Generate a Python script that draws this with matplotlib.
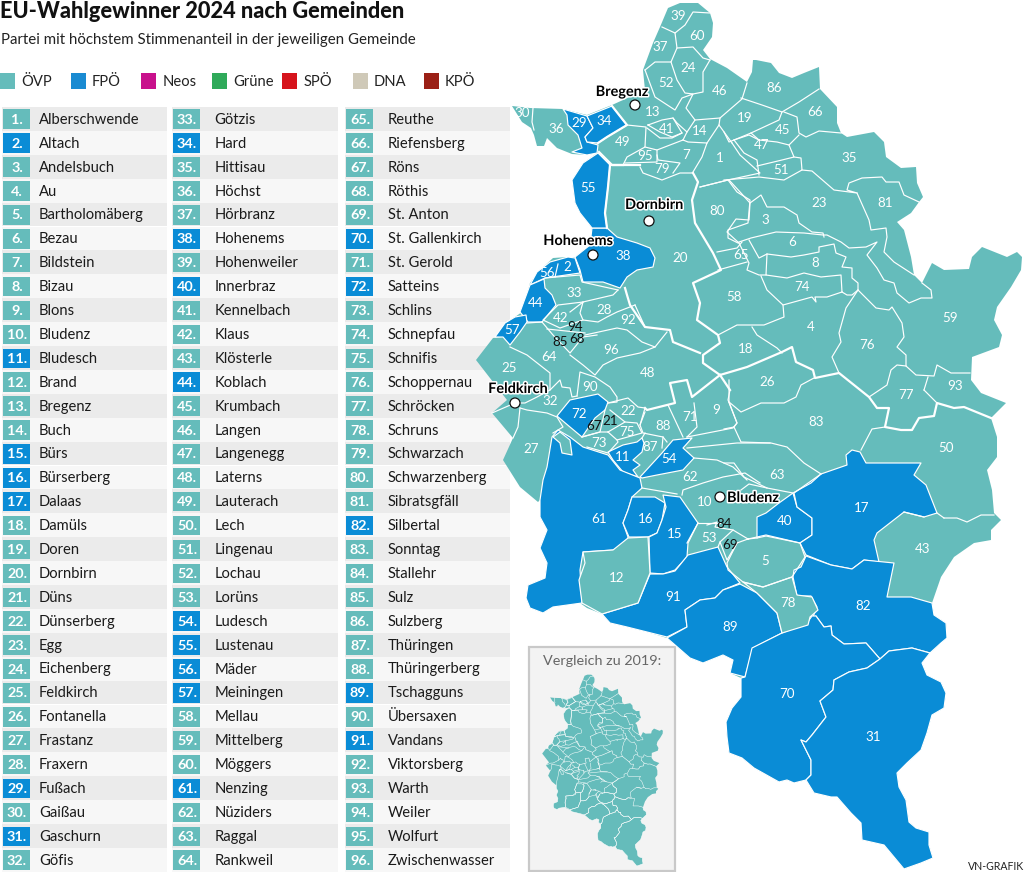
import matplotlib
matplotlib.use('Agg')
import matplotlib.pyplot as plt
import matplotlib.patheffects as pe
from matplotlib.patches import Polygon, Rectangle, Circle

TEAL = '#65bcbb'
BLUE = '#0a8cd6'

names = ['Alberschwende','Altach','Andelsbuch','Au','Bartholomäberg','Bezau','Bildstein','Bizau','Blons','Bludenz','Bludesch','Brand','Bregenz','Buch','Bürs','Bürserberg','Dalaas','Damüls','Doren','Dornbirn','Düns','Dünserberg','Egg','Eichenberg','Feldkirch','Fontanella','Frastanz','Fraxern','Fußach','Gaißau','Gaschurn','Göfis',
         'Götzis','Hard','Hittisau','Höchst','Hörbranz','Hohenems','Hohenweiler','Innerbraz','Kennelbach','Klaus','Klösterle','Koblach','Krumbach','Langen','Langenegg','Laterns','Lauterach','Lech','Lingenau','Lochau','Lorüns','Ludesch','Lustenau','Mäder','Meiningen','Mellau','Mittelberg','Möggers','Nenzing','Nüziders','Raggal','Rankweil',
         'Reuthe','Riefensberg','Röns','Röthis','St. Anton','St. Gallenkirch','St. Gerold','Satteins','Schlins','Schnepfau','Schnifis','Schoppernau','Schröcken','Schruns','Schwarzach','Schwarzenberg','Sibratsgfäll','Silbertal','Sonntag','Stallehr','Sulz','Sulzberg','Thüringen','Thüringerberg','Tschagguns','Übersaxen','Vandans','Viktorsberg','Warth','Weiler','Wolfurt','Zwischenwasser']
fpo_ids = [2, 11, 15, 16, 17, 29, 31, 34, 38, 40, 44, 54, 55, 56, 57, 61, 70, 72, 82, 89, 91]

parties = ['ÖVP', 'FPÖ', 'Neos', 'Grüne', 'SPÖ', 'DNA', 'KPÖ']
party_colors = [TEAL, '#1a8bd2', '#c8118c', '#2faa5a', '#d6141c', '#cfc9b8', '#9b2016']

# land outline, traced clockwise from the north tip
outline = [(680,3),(698,3),(710,13),(713,23),(712,37),(703,50),(710,59),(727,68),(747,82),(752,72),(753,60),(756,60),(771,63),(779,73),(792,78),(804,73),(819,67),(820,89),(837,107),(837,123),(841,133),(847,137),(874,132),(884,142),(886,157),(901,168),(916,167),(917,183),(923,197),(919,202),(911,213),(897,222),(904,230),(911,257),(914,275),(922,283),(932,263),(944,270),(969,269),(972,257),(982,247),(1007,257),(1017,252),(1022,257),(1021,270),(1011,287),(997,307),(994,320),(1002,335),(999,347),(972,357),(971,380),(981,393),(1006,403),(991,418),(997,437),(997,457),(987,470),(992,490),(994,513),(1001,520),(991,530),(991,540),(974,543),(954,557),(941,577),(932,603),(934,615),(946,623),(947,637),(941,643),(930,653),(922,663),(927,675),(941,682),(946,693),(944,708),(932,715),(927,733),(921,750),(907,763),(897,773),(899,787),(906,800),(909,822),(916,828),(929,832),(929,845),(933,858),(921,863),(904,869),(894,857),(884,845),(862,840),(861,823),(851,813),(837,797),(831,797),(814,793),(806,780),(794,783),(787,780),(779,782),(754,768),(742,758),(729,753),(727,737),(726,722),(732,708),(741,697),(741,678),(730,673),(733,660),(723,655),(703,663),(690,658),(667,638),(647,632),(627,627),(610,623),(602,614),(587,608),(580,603),(553,607),(543,613),(530,608),(526,598),(528,585),(545,578),(547,563),(540,548),(547,530),(540,517),(540,500),(538,502),(520,487),(503,460),(513,438),(492,413),(507,400),(476,360),(493,338),(503,337),(505,323),(515,317),(522,312),(530,283),(540,270),(553,258),(568,257),(575,257),(590,245),(592,228),(580,213),(575,203),(572,180),(583,163),(597,153),(587,155),(572,154),(557,148),(547,138),(544,146),(537,146),(534,135),(531,128),(522,122),(512,106),(530,108),(563,109),(587,115),(612,105),(645,90),(643,70),(653,43),(660,27),(668,8)]

# municipalities won by the FPÖ
blue_shapes = [
    [(592,228),(607,228),(617,237),(637,243),(650,248),(655,258),(653,267),(637,270),(627,277),(620,288),(603,282),(583,282),(580,270),(575,257),(590,245)],
    [(598,153),(610,165),(608,187),(605,213),(607,228),(592,228),(580,213),(575,203),(572,180),(583,163)],
    [(537,272),(550,262),(568,257),(575,258),(580,273),(545,278),(530,285)],
    [(530,285),(544,279),(545,288),(552,295),(556,305),(542,322),(528,322),(520,312)],
    [(526,315),(527,322),(520,332),(510,345),(503,337),(495,337),(505,323),(515,317)],
    [(563,109),(587,116),(593,128),(585,137),(587,142),(598,145),(597,153),(587,155),(572,152),(582,148),(578,135),(568,125),(567,115)],
    [(587,116),(612,106),(627,125),(607,137),(598,143),(587,142),(585,137),(593,128)],
    [(557,416),(570,400),(598,394),(608,402),(605,410),(595,418),(582,437),(570,427)],
    [(608,452),(623,445),(637,442),(642,438),(644,443),(642,452),(633,460),(640,465),(633,470),(638,477),(623,472),(613,460)],
    [(640,477),(662,453),(673,440),(692,438),(683,448),(694,458),(683,470),(657,475),(642,478)],
    [(552,437),(558,430),(570,437),(583,447),(608,455),(620,470),(640,478),(642,488),(632,497),(628,510),(623,523),(628,537),(627,545),(613,550),(583,552),(580,570),(582,603),(553,607),(543,613),(530,608),(526,598),(528,585),(545,578),(547,563),(540,548),(547,530),(540,517),(540,500),(543,480),(547,467)],
    [(632,497),(655,497),(665,503),(662,520),(657,533),(648,537),(629,537),(623,523),(628,510)],
    [(663,495),(680,497),(698,523),(688,543),(687,557),(675,570),(663,574),(650,573),(649,537),(657,533),(662,520),(666,507)],
    [(650,574),(663,574),(675,571),(688,555),(718,547),(727,567),(740,583),(723,590),(715,598),(700,600),(685,610),(687,627),(667,637),(647,632),(627,627),(610,623),(602,614),(638,603)],
    [(667,638),(687,627),(685,610),(700,600),(715,598),(723,590),(740,584),(757,593),(777,613),(782,633),(753,648),(745,677),(730,673),(733,660),(723,655),(703,663),(690,658)],
    [(793,493),(797,507),(812,518),(812,535),(800,543),(766,536),(757,538),(757,517),(766,513),(779,503)],
    [(794,493),(821,474),(847,465),(846,455),(852,450),(860,452),(866,463),(884,463),(921,463),(914,475),(926,485),(937,513),(924,517),(904,512),(877,533),(874,540),(879,562),(864,560),(852,569),(831,565),(806,555),(800,543),(812,535),(812,518),(797,507)],
    [(806,556),(831,565),(852,569),(864,560),(894,563),(887,597),(911,597),(932,603),(934,615),(946,623),(947,638),(941,643),(930,653),(912,648),(889,651),(880,659),(866,643),(844,644),(832,635),(831,626),(824,627),(816,616),(813,617),(817,607),(811,596),(797,596),(793,577),(794,570),(801,567)],
    [(782,633),(807,623),(812,616),(816,616),(824,627),(831,626),(832,635),(844,644),(866,643),(880,659),(867,668),(849,672),(834,680),(833,690),(820,701),(826,717),(812,735),(806,742),(801,740),(811,760),(811,775),(806,780),(794,783),(787,780),(779,782),(754,768),(742,758),(729,753),(727,737),(726,722),(732,708),(741,697),(741,678),(745,677),(752,648)],
    [(880,659),(889,651),(912,648),(930,653),(922,663),(927,675),(941,682),(946,693),(944,708),(932,715),(927,733),(921,750),(907,763),(897,773),(899,787),(906,800),(909,822),(916,828),(929,832),(929,845),(933,858),(921,863),(904,869),(894,857),(884,845),(862,840),(861,823),(851,813),(837,797),(831,797),(814,793),(806,780),(811,775),(811,760),(801,740),(806,742),(812,735),(826,717),(820,701),(833,690),(834,680),(849,672),(867,668)],
]
# teal municipalities lying inside the blue areas, drawn on top
teal_shapes = [
    [(583,552),(613,550),(628,538),(648,537),(650,573),(638,603),(602,614),(582,603),(579,580),(585,563)],
    [(743,582),(763,587),(792,577),(797,595),(812,597),(818,610),(810,617),(808,625),(782,633),(777,613),(757,593)],
    [(553,437),(560,432),(570,440),(572,455),(562,453),(560,443)],
]

thin_lines = [
    [(533,108),(532,122),(534,130)],
    [(558,264),(555,277)],
    [(662,27),(675,33),(685,25),(693,12),(710,13)],
    [(675,33),(677,48),(671,62),(655,62),(645,70)],
    [(677,48),(693,47),(703,58),(710,60)],
    [(671,62),(677,80),(685,93),(693,94),(703,92),(703,72),(710,60)],
    [(645,70),(655,97),(675,110),(682,98),(693,94),(686,108),(695,120),(720,118)],
    [(648,125),(662,120),(673,118),(682,133),(672,137),(660,132),(648,125)],
    [(673,118),(677,123),(687,132),(695,120)],
    [(627,125),(646,127),(645,147),(627,157),(623,165)],
    [(647,128),(660,138),(672,138),(682,133)],
    [(683,140),(657,150),(645,147)],
    [(625,163),(657,162),(657,150)],
    [(657,155),(658,160),(680,163),(673,173)],
    [(640,167),(643,173),(662,180),(680,173),(693,173)],
    [(683,140),(688,142),(707,143),(702,157),(693,172)],
    [(687,132),(683,140)],
    [(707,143),(719,125),(720,118),(742,99),(747,83)],
    [(719,125),(732,143)],
    [(732,143),(740,155),(760,173),(728,180),(700,187)],
    [(741,98),(762,105),(782,112),(779,120),(751,133),(734,140),(729,142),(724,132)],
    [(782,112),(799,102),(819,89)],
    [(784,112),(797,117),(799,133),(806,137),(819,131),(841,133)],
    [(751,133),(759,140),(777,142),(789,145),(799,135)],
    [(734,140),(749,135),(759,140)],
    [(734,140),(744,153),(757,160),(759,175)],
    [(757,166),(782,160),(794,157),(789,145)],
    [(794,157),(801,158),(802,170),(784,180),(759,177),(724,180)],
    [(802,170),(812,171),(834,190),(857,193),(847,190),(849,183),(862,178),(882,177),(886,182),(899,182),(904,195),(919,202)],
    [(857,193),(869,220),(871,230),(886,228),(887,237),(884,252),(894,262),(914,275)],
    [(729,180),(741,193),(750,203),(749,220),(736,219),(727,232),(739,243)],
    [(750,203),(761,195),(767,207),(784,207),(797,215),(799,223),(812,232),(823,233),(824,237)],
    [(739,242),(751,238),(776,232),(804,233),(823,235),(827,235),(841,242),(849,248),(866,247),(877,242),(867,255),(877,268),(884,280),(894,283),(897,293),(909,303),(921,298),(932,298),(931,290),(922,283)],
    [(749,240),(759,258),(767,254),(791,257),(804,255),(819,252),(819,247),(834,244),(836,253),(846,257),(842,267),(852,268),(852,278),(858,283),(858,290),(852,295),(847,295),(842,292)],
    [(767,254),(766,275),(787,278),(804,273),(821,277),(841,275),(842,292)],
    [(761,276),(767,290),(783,305),(812,297),(816,302),(815,297),(827,297),(842,292)],
    [(739,243),(749,263),(747,270),(759,275),(766,275)],
    [(717,252),(737,248),(742,242)],
    [(718,270),(747,262)],
    [(700,187),(728,180),(737,192),(750,200),(748,223),(728,230),(728,238),(738,243)],
    [(718,335),(737,325),(764,325),(784,317),(783,305)],
    [(752,327),(757,335),(777,348),(782,353)],
    [(858,290),(846,308),(839,333),(841,342),(832,357),(839,373)],
    [(858,290),(876,308),(889,310),(892,307),(902,323),(904,337),(897,347),(906,355),(906,366),(916,375),(934,376),(937,365),(951,373),(970,373)],
    [(869,397),(887,385),(891,370),(897,365),(906,366)],
    [(924,390),(928,377)],
    [(937,403),(924,390)],
    [(885,427),(872,429),(861,450)],
    [(729,402),(741,412),(761,403),(784,403),(796,397),(801,385),(814,378)],
    [(734,427),(741,442),(771,443),(787,447),(804,463),(821,474)],
    [(729,380),(729,402),(737,423),(734,427),(724,429)],
    [(724,463),(734,463),(744,477),(767,488),(793,493),(811,483),(821,474)],
    [(741,490),(749,484),(767,488)],
    [(694,403),(697,427),(687,437)],
    [(668,405),(683,437)],
    [(645,412),(640,425),(643,433),(663,437),(667,442)],
    [(730,390),(728,400),(737,423),(733,428),(687,437)],
    [(645,433),(642,438)],
    [(663,437),(662,448)],
    [(608,403),(628,398),(638,407),(645,408),(640,425)],
    [(610,410),(625,422),(608,432)],
    [(608,432),(617,440),(642,433),(637,423),(625,422)],
    [(605,410),(600,432),(582,437)],
    [(587,447),(608,453),(618,442),(617,440)],
    [(582,437),(600,432),(608,432)],
    [(577,396),(580,372),(595,377),(610,387),(617,397),(617,402),(608,403)],
    [(570,355),(583,365),(595,375),(603,365),(617,358),(640,353),(655,347),(667,332)],
    [(635,305),(617,312),(607,317),(598,322),(583,320),(580,313),(583,302),(613,295),(618,290)],
    [(585,335),(617,328),(627,330),(642,342),(655,347)],
    [(635,305),(645,327)],
    [(545,278),(580,275),(582,282),(618,290)],
    [(583,302),(558,305),(543,320),(560,328),(583,320)],
    [(570,312),(583,302)],
    [(542,322),(553,335),(570,353),(583,337),(597,335)],
    [(547,329),(585,333)],
    [(527,323),(542,322)],
    [(510,347),(527,355),(550,373),(550,382),(550,390),(537,397),(525,403),(515,403),(492,413)],
    [(550,390),(560,380),(562,387),(570,388),(572,397),(577,396)],
    [(520,408),(527,410),(547,413),(557,417),(563,427),(553,433)],
    [(520,408),(518,427),(513,438)],
    [(694,458),(717,460),(733,467),(747,480)],
    [(687,448),(737,443),(770,443)],
    [(642,488),(677,494)],
    [(682,495),(683,490),(703,483),(723,477),(745,473),(760,483)],
    [(698,523),(720,523)],
    [(707,525),(717,522),(715,527),(733,530),(748,539)],
    [(687,543),(698,523)],
    [(718,547),(720,542),(733,530)],
    [(720,542),(727,560),(737,543)],
    [(748,539),(737,543),(727,563),(728,570),(743,582),(763,587),(792,577),(805,557),(800,543),(766,535),(748,539)],
    [(757,538),(748,539)],
    [(944,518),(957,518),(967,522),(981,515),(994,515)],
    [(937,513),(944,518)],
    [(904,512),(924,517)],
]
thick_lines = [
    [(693,173),(698,182),(692,200),(695,223),(713,253),(721,270),(693,283),(700,303),(697,320),(718,335),(720,343),(703,355),(703,363),(720,375),(747,367),(782,352),(792,347),(796,362),(813,370),(815,378),(839,373),(869,397),(877,408),(889,408),(885,427),(901,430),(912,430),(919,418),(934,416),(937,403),(954,408),(964,407),(991,418)],
    [(612,165),(640,165)],
    [(610,165),(608,187),(605,213),(607,228)],
    [(625,288),(627,295),(630,305),(645,327),(670,330),(673,342),(700,353)],
    [(720,375),(692,397),(687,380),(670,383),(675,403),(647,410),(645,408)],
    [(720,375),(730,390)],
    [(612,106),(627,125),(607,137),(598,143)],
    [(623,165),(612,165),(599,152)],
]

# number label centres in map pixels, index 0 is municipality 1
label_x = [720,567,765,811,765,792,686,815,716,705,623,617,653,700,675,646,862,746,745,680,610,628,819,688,509,767,531,604,579,522,873,550,
           574,604,849,556,660,623,678,785,667,561,923,536,783,720,762,648,623,946,781,666,709,669,588,547,512,734,950,697,599,690,777,549,
           741,815,594,577,730,787,690,579,599,802,627,867,906,788,662,717,885,863,816,724,560,774,650,663,730,590,673,628,955,575,645,611]
label_y = [158,267,220,327,561,242,155,263,410,502,457,578,112,131,534,519,508,349,118,258,421,411,203,68,368,382,449,310,123,113,737,401,
           293,121,158,129,47,256,16,521,129,318,549,303,130,91,145,373,142,448,170,83,538,459,188,273,330,297,318,36,519,477,475,357,
           255,112,426,339,545,694,417,414,443,287,432,345,395,603,169,211,203,606,422,524,342,88,447,426,627,387,597,320,386,327,156,350]
black_labels = [94, 68, 85, 67, 21, 84, 69]
cities = ['Bregenz', 'Dornbirn', 'Hohenems', 'Feldkirch', 'Bludenz']
city_x = [635, 649, 593, 515, 720]
city_y = [105, 221, 255, 403, 497]
city_text_x = [622, 654, 578, 518, 753]
city_text_y = [92, 205, 241, 389, 498]

plt.rcParams['font.family'] = ['Lato', 'DejaVu Sans']
fig = plt.figure(figsize=(10.24, 8.72), dpi=100)
ax = fig.add_axes([0, 0, 1, 1])
ax.set_xlim(0, 1024)
ax.set_ylim(872, 0)
ax.axis('off')

ax.text(0, 12, 'EU-Wahlgewinner 2024 nach Gemeinden', fontsize=15.7, fontweight='black', va='center', color='#111111')
ax.text(1, 40, 'Partei mit höchstem Stimmenanteil in der jeweiligen Gemeinde', fontsize=10.85, va='center', color='#222222')

for i, p in enumerate(parties):
    x = i * 70.6
    ax.add_patch(Rectangle((x, 73), 15, 16, fc=party_colors[i], ec='none'))
    ax.text(x + 21, 82, p, fontsize=10.6, va='center', color='#222222')

# table of municipalities
col_x = [2, 172, 345]
col_w = [165, 166, 165]
for i, name in enumerate(names):
    col = i // 32
    row = i % 32
    y = 119 + row * 23.9
    ax.add_patch(Rectangle((col_x[col], y - 12), col_w[col], 23.9, fc='#ebebeb' if row % 2 == 0 else '#f7f7f7', ec='none'))
    num = i + 1
    ax.add_patch(Rectangle((col_x[col] + 1, y - 9.5), 27, 19.5, fc=BLUE if num in fpo_ids else TEAL, ec='none'))
    ax.text(col_x[col] + 15, y + 0.8, f'{num}.', color='white', fontsize=10.4, fontweight='bold', ha='center', va='center')
    ax.text(col_x[col] + [37, 42.5, 42.5][col], y + 0.8, name, color='#1a1a1a', fontsize=10.6, va='center')


def draw_map(sx, tx, ty, lw_thin, lw_thick, plain):
    def tr(pts):
        return [(tx + sx * a, ty + sx * b) for a, b in pts]
    ax.add_patch(Polygon(tr(outline), fc=TEAL, ec='none', zorder=3))
    if not plain:
        for s in blue_shapes:
            ax.add_patch(Polygon(tr(s), fc=BLUE, ec='white', lw=lw_thin, joinstyle='round', zorder=4))
    for s in teal_shapes:
        ax.add_patch(Polygon(tr(s), fc=TEAL, ec='white', lw=lw_thin, joinstyle='round', zorder=4))
    for line in thin_lines:
        ax.plot(*zip(*tr(line)), color='white', lw=lw_thin, solid_joinstyle='round', zorder=5)
    if plain:
        for s in blue_shapes:
            ax.add_patch(Polygon(tr(s), fc='none', ec='white', lw=lw_thin, zorder=5))
    for line in thick_lines:
        ax.plot(*zip(*tr(line)), color='white', lw=lw_thick, solid_joinstyle='round', zorder=5)


draw_map(1.0, 0, 0, 0.85, 1.6, False)

halo = [pe.withStroke(linewidth=2.2, foreground='white')]
for i in range(96):
    num = i + 1
    c = '#111111' if num in black_labels else 'white'
    ax.text(label_x[i], label_y[i], str(num), color=c, fontsize=9.6, ha='center', va='center', zorder=7)

for i, c in enumerate(cities):
    ax.add_patch(Circle((city_x[i], city_y[i]), 5, fc='white', ec='#111111', lw=0.9, zorder=8))
    ax.text(city_text_x[i], city_text_y[i], c, color='black', fontsize=10.4, fontweight='bold', ha='center', va='center', zorder=9, path_effects=halo)

# inset with the 2019 result
ax.add_patch(Rectangle((529, 647), 146, 224, fc='#f3f3f3', ec='#c9c9c9', lw=1.6, zorder=2))
ax.text(602, 661, 'Vergleich zu 2019:', color='#666666', fontsize=10.4, ha='center', va='center', zorder=3)
draw_map(0.221, 437, 674, 0.35, 0.4, True)

ax.text(1024, 866, 'VN-GRAFIK', color='#222222', fontsize=7.6, ha='right', va='center')

fig.savefig('out.png', dpi=100)
